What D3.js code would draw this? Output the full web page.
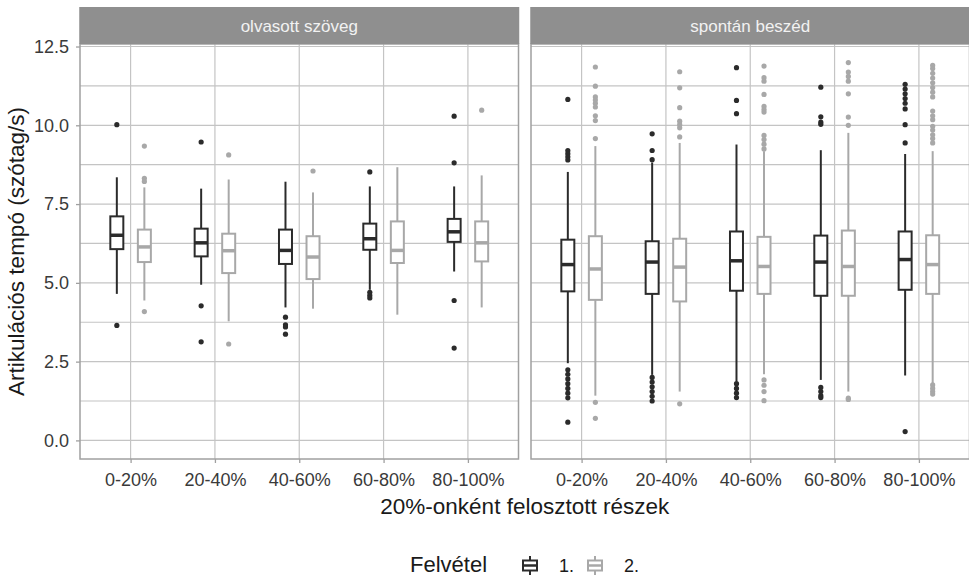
<!DOCTYPE html>
<html>
<head>
<meta charset="utf-8">
<script src="https://cdn.jsdelivr.net/npm/d3@7"></script>
<style>
  body { margin: 0; background: #fff; }
  text { font-family: "Liberation Sans", Arial, sans-serif; }
</style>
</head>
<body>
<svg id="chart"></svg>
<script>
// facets, x categories, recordings
var panels = ["olvasott szöveg", "spontán beszéd"]
var parts = ["0-20%", "20-40%", "40-60%", "60-80%", "80-100%"]
var recordings = ["1.", "2."]
var yTicks = [0, 2.5, 5, 7.5, 10, 12.5]

// box stats per part: [lower whisker, q1, median, q3, upper whisker]
var readRec1 = [[4.65, 6.07, 6.51, 7.11, 8.35], [4.94, 5.84, 6.27, 6.72, 7.99], [4.22, 5.6, 6.03, 6.69, 8.21], [4.78, 6.05, 6.4, 6.88, 8.06], [5.36, 6.3, 6.62, 7.03, 8.06]]
var readRec2 = [[4.44, 5.66, 6.14, 6.69, 8.03], [3.78, 5.31, 6.02, 6.56, 8.28], [4.18, 5.12, 5.82, 6.48, 7.87], [3.99, 5.63, 6.03, 6.95, 8.67], [4.22, 5.68, 6.27, 6.95, 8.41]]
var spontRec1 = [[2.45, 4.73, 5.58, 6.37, 8.52], [2.08, 4.65, 5.66, 6.32, 8.82], [1.87, 4.75, 5.7, 6.63, 9.39], [1.92, 4.59, 5.66, 6.5, 9.21], [2.06, 4.78, 5.74, 6.63, 9.09]]
var spontRec2 = [[1.42, 4.46, 5.44, 6.48, 9.34], [1.55, 4.41, 5.5, 6.4, 9.44], [2.1, 4.65, 5.52, 6.46, 9.18], [1.55, 4.59, 5.52, 6.66, 9.76], [1.82, 4.65, 5.58, 6.51, 9.18]]

// outliers per part
var readRec1Out = [[10.02, 3.65], [9.47, 4.27, 3.13], [3.91, 3.67, 3.6, 3.37], [8.52, 4.7, 4.6, 4.52], [10.29, 8.81, 4.44, 2.93]]
var readRec2Out = [[9.34, 8.32, 8.22, 4.09], [9.06, 3.06], [8.55], [], [10.48]]
var spontRec1Out = [
  [10.82, 9.2, 9.1, 9.0, 8.9, 2.24, 2.1, 1.95, 1.8, 1.65, 1.5, 1.35, 0.58],
  [9.73, 9.2, 8.91, 2.0, 1.85, 1.7, 1.55, 1.4, 1.25],
  [11.83, 10.79, 10.37, 1.8, 1.65, 1.5, 1.36],
  [11.21, 10.27, 10.1, 10.03, 1.68, 1.55, 1.42, 1.36],
  [11.3, 11.15, 11.0, 10.85, 10.7, 10.52, 10.02, 9.44, 0.28]]
var spontRec2Out = [
  [11.85, 11.24, 10.9, 10.8, 10.7, 10.58, 10.3, 10.15, 9.58, 1.21, 0.7],
  [11.7, 11.19, 10.56, 10.13, 10.02, 9.92, 9.63, 1.16],
  [11.88, 11.51, 11.4, 10.98, 10.6, 10.5, 10.42, 9.68, 9.55, 9.4, 9.25, 1.92, 1.75, 1.55, 1.26],
  [11.99, 11.69, 11.55, 11.4, 11.0, 10.26, 10.0, 1.34, 1.3],
  [11.9, 11.8, 11.65, 11.5, 11.35, 11.2, 11.05, 10.9, 10.45, 10.3, 10.18, 9.97, 9.85, 9.7, 9.58, 9.44, 1.76, 1.65, 1.55, 1.47]]

var boxData = [[readRec1, readRec2], [spontRec1, spontRec2]]
var outData = [[readRec1Out, readRec2Out], [spontRec1Out, spontRec2Out]]
var colors = ["#2b2b2b", "#a8a8a8"]

var screen = {width: 969, height: 577}
var panelTop = 44, panelBottom = 459, stripTop = 7
var panelLeft = [80, 531], panelWidth = 438.5

var svg = d3.select("#chart")
  .attr("width", screen.width)
  .attr("height", screen.height)

var yScale = d3.scaleLinear()
  .domain([-0.59, 12.58])
  .range([panelBottom, panelTop])

var minorTicks = d3.range(0, 12.6, 1.25)

panels.forEach(function(panelName, p)
{
  var x0 = panelLeft[p]
  var xScale = d3.scalePoint()
    .domain(parts)
    .range([x0, x0 + panelWidth])
    .padding(0.6)
  var step = xScale.step()
  var dodge = d3.scaleBand()
    .domain(recordings)
    .range([-0.4 * step, 0.4 * step])
    .paddingInner(0.15)
    .paddingOuter(0.3)
  var boxW = 13

  var g = svg.append("g")

  // grid
  g.selectAll(".hgrid")
    .data(minorTicks)
    .enter()
    .append("line")
    .attr("x1", x0).attr("x2", x0 + panelWidth)
    .attr("y1", function(d) { return yScale(d) })
    .attr("y2", function(d) { return yScale(d) })
    .attr("stroke", "#c4c4c4")
    .attr("stroke-width", 1.2)
  g.selectAll(".vgrid")
    .data(parts)
    .enter()
    .append("line")
    .attr("x1", function(d) { return xScale(d) })
    .attr("x2", function(d) { return xScale(d) })
    .attr("y1", panelTop).attr("y2", panelBottom)
    .attr("stroke", "#c4c4c4")
    .attr("stroke-width", 1.2)

  // boxes
  recordings.forEach(function(rec, r)
  {
    var stats = boxData[p][r]
    var outs = outData[p][r]
    var col = colors[r]
    parts.forEach(function(part, i)
    {
      var s = stats[i]
      var cx = xScale(part) + dodge(rec) + dodge.bandwidth() / 2
      g.append("line")
        .attr("x1", cx).attr("x2", cx)
        .attr("y1", yScale(s[0])).attr("y2", yScale(s[1]))
        .attr("stroke", col).attr("stroke-width", 2)
      g.append("line")
        .attr("x1", cx).attr("x2", cx)
        .attr("y1", yScale(s[3])).attr("y2", yScale(s[4]))
        .attr("stroke", col).attr("stroke-width", 2)
      g.append("rect")
        .attr("x", cx - boxW / 2)
        .attr("y", yScale(s[3]))
        .attr("width", boxW)
        .attr("height", yScale(s[1]) - yScale(s[3]))
        .attr("fill", "#fff")
        .attr("stroke", col).attr("stroke-width", 2)
      g.append("line")
        .attr("x1", cx - boxW / 2).attr("x2", cx + boxW / 2)
        .attr("y1", yScale(s[2])).attr("y2", yScale(s[2]))
        .attr("stroke", col).attr("stroke-width", 3.5)
      g.selectAll(null)
        .data(outs[i])
        .enter()
        .append("circle")
        .attr("cx", cx)
        .attr("cy", function(d) { return yScale(d) })
        .attr("r", 2.6)
        .attr("fill", col)
    })
  })

  // panel border
  g.append("rect")
    .attr("x", x0).attr("y", panelTop)
    .attr("width", panelWidth).attr("height", panelBottom - panelTop)
    .attr("fill", "none")
    .attr("stroke", "#a0a0a0").attr("stroke-width", 1.5)

  // strip
  g.append("rect")
    .attr("x", x0 - 0.75).attr("y", stripTop)
    .attr("width", panelWidth + 1.5).attr("height", panelTop - stripTop)
    .attr("fill", "#8f8f8f")
  g.append("text")
    .text(panelName)
    .attr("x", x0 + panelWidth / 2)
    .attr("y", (stripTop + panelTop) / 2 + 6)
    .attr("text-anchor", "middle")
    .attr("fill", "#f2f2f2")
    .style("font-size", "17px")

  // x axis
  var xAxis = d3.axisBottom(xScale).tickSize(4).tickPadding(10)
  var ax = svg.append("g")
    .attr("transform", "translate(0," + panelBottom + ")")
    .call(xAxis)
  ax.select(".domain").remove()
  ax.selectAll(".tick line").attr("stroke", "#a0a0a0").attr("stroke-width", 1.3)
  ax.selectAll(".tick text")
    .attr("fill", "#3a3a3a")
    .style("font-size", "18px")
    .style("font-family", "Liberation Sans, Arial, sans-serif")
})

// y axis
var yAxis = d3.axisLeft(yScale).tickValues(yTicks).tickFormat(d3.format(".1f")).tickSize(4).tickPadding(7)
var ay = svg.append("g")
  .attr("transform", "translate(" + panelLeft[0] + ",0)")
  .call(yAxis)
ay.select(".domain").remove()
ay.selectAll(".tick line").attr("stroke", "#a0a0a0").attr("stroke-width", 1.3)
ay.selectAll(".tick text")
  .attr("fill", "#3a3a3a")
  .style("font-size", "18px")
  .style("font-family", "Liberation Sans, Arial, sans-serif")

// labels
var labels = svg.append("g")
labels.append("text")
  .text("20%-onként felosztott részek")
  .attr("x", (panelLeft[0] + panelLeft[1] + panelWidth) / 2)
  .attr("y", 514)
  .attr("text-anchor", "middle")
  .attr("fill", "#1a1a1a")
  .style("font-size", "22.5px")
labels.append("g")
  .attr("transform", "translate(24," + ((panelTop + panelBottom) / 2) + ")")
  .append("text")
  .text("Artikulációs tempó (szótag/s)")
  .attr("transform", "rotate(-90)")
  .attr("text-anchor", "middle")
  .attr("fill", "#1a1a1a")
  .style("font-size", "22.5px")

// legend
var legend = svg.append("g").attr("transform", "translate(410,0)")
legend.append("text")
  .text("Felvétel")
  .attr("x", 0).attr("y", 572)
  .attr("fill", "#1a1a1a")
  .style("font-size", "22px")
var keys = legend.selectAll(".key")
  .data(recordings)
  .enter()
  .append("g")
  .attr("transform", function(d, i) { return "translate(" + (113 + i * 65) + ",0)" })
keys.append("line")
  .attr("x1", 7).attr("x2", 7).attr("y1", 556).attr("y2", 575)
  .attr("stroke", function(d, i) { return colors[i] }).attr("stroke-width", 2)
keys.append("rect")
  .attr("x", 0).attr("y", 560.5).attr("width", 14).attr("height", 10)
  .attr("fill", "#fff")
  .attr("stroke", function(d, i) { return colors[i] }).attr("stroke-width", 2)
keys.append("line")
  .attr("x1", 0).attr("x2", 14).attr("y1", 565.5).attr("y2", 565.5)
  .attr("stroke", function(d, i) { return colors[i] }).attr("stroke-width", 2.5)
keys.append("text")
  .text(function(d) { return d })
  .attr("x", 36).attr("y", 572)
  .attr("fill", "#1a1a1a")
  .style("font-size", "18px")
</script>
</body>
</html>
